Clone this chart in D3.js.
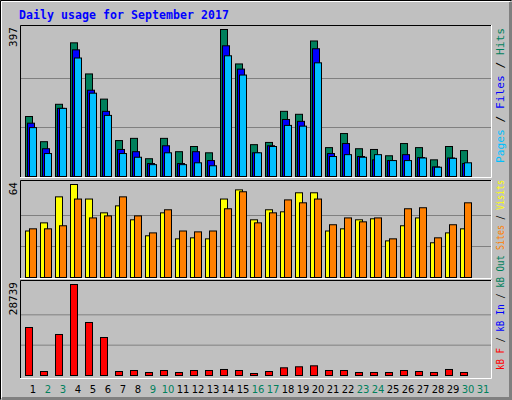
<!DOCTYPE html>
<html><head><meta charset="utf-8">
<script src="https://cdn.jsdelivr.net/npm/d3@7"></script>
<style>body{margin:0;background:#fff}svg{display:block}</style>
</head><body><svg id="c" width="512" height="400"></svg>
<script>
const days = d3.range(1,32);
const weekendDays = [2,3,9,10,16,17,23,24,30,31];
const hits  = [162,94,195,361,277,209,97,103,48,103,67,81,64,397,304,86,92,176,168,366,78,116,75,73,56,89,78,45,81,70];
const files = [144,75,184,342,233,176,73,67,35,83,35,67,43,353,290,64,83,154,149,345,62,89,54,45,43,59,51,26,50,35];
const pages = [132,62,184,320,225,165,62,52,32,64,32,37,29,326,274,64,81,138,136,307,54,59,52,59,43,43,50,25,49,37];
const visits= [32,37.6,55.5,64,54,44.5,49.3,39.7,28.7,44.5,26.6,27.3,26.6,54,60.3,39.7,46.6,45.2,58.3,58.3,32,33.5,39.7,40.4,25.2,35.6,41,23.9,30.7,33.5];
const sites = [33.5,33.5,35.6,54,41,42.4,55.5,42.4,30.7,46.6,32,31.4,32,47.3,59,37.6,44.5,53.4,51.4,54,36.3,41,38.3,41,26.6,47.3,48,27.3,36.3,51.4];
const kbF   = [15160,1263,12950,28739,16740,12000,1263,1580,950,1580,950,1580,1580,1900,1580,630,1263,2430,2750,3060,1580,1580,950,950,950,1580,1263,950,1900,950];
const maxHits=397, maxVisits=64, maxKB=28739;

const svg=d3.select("#c");
const mono="DejaVu Sans Mono, monospace";
svg.append("rect").attr("width",512).attr("height",400).attr("fill","#c0c0c0");
svg.append("path").attr("d","M0.5,399.5V0.5H511.5").attr("stroke","#000").attr("fill","none");
svg.append("path").attr("d","M1.5,398V1.5H510").attr("stroke","#fff").attr("fill","none");
svg.append("path").attr("d","M510.5,2V398.5H2").attr("stroke","#808080").attr("stroke-width",3).attr("fill","none");

svg.append("text").attr("x",19).attr("y",19).attr("font-family",mono).attr("font-weight","bold")
  .attr("font-size",11.5).attr("fill","#0000ff").attr("textLength",210).text("Daily usage for September 2017");

const x=d3.scaleBand().domain(days).range([25,490]).paddingInner(0);
const L=20,R=491;
function panel(top,bot){
  svg.append("path").attr("d",`M${L+0.5},${bot}V${top+0.5}H${R}`).attr("stroke","#000").attr("fill","none");
  svg.append("path").attr("d",`M${R+0.5},${top}V${bot+0.5}H${L}`).attr("stroke","#fff").attr("fill","none");
}
function grid(y,vals){vals.forEach(v=>svg.append("line").attr("x1",L+1).attr("x2",R).attr("y1",y(v)+0.5).attr("y2",y(v)+0.5).attr("stroke","#808080"));}
function bars(data,y,color,off,w){
  svg.append("g").selectAll("rect").data(data).join("rect")
   .attr("x",(d,i)=>x(days[i])+off+0.5).attr("y",d=>y(d)+0.5).attr("width",w)
   .attr("height",d=>y(0)-y(d)).attr("fill",color).attr("stroke","#000");
}
function vlabel(txt,xp,yp,color){
  svg.append("text").attr("transform",`translate(${xp},${yp}) rotate(-90)`).attr("text-anchor","end")
   .attr("font-family",mono).attr("font-size",11).attr("fill",color).text(txt);
}
function rlabel(parts,xp,yBottom,len,fs){
  const t=svg.append("text").attr("transform",`translate(${xp},${yBottom}) rotate(-90)`)
   .attr("font-family",mono).attr("font-size",fs).attr("textLength",len).attr("lengthAdjust","spacingAndGlyphs");
  parts.forEach(p=>t.append("tspan").attr("fill",p[1]).text(p[0]));
}
panel(25,177);
const y1=d3.scaleLinear().domain([0,maxHits]).range([176,29]);
grid(y1,[maxHits/3,maxHits*2/3]);
bars(hits,y1,"#00805c",0,7);
bars(files,y1,"#0000ff",2,7);
bars(pages,y1,"#00c0ff",4,7);
vlabel(maxHits,17,27,"#000");
rlabel([["Pages","#00c0ff"],[" / ","#000"],["Files","#0000ff"],[" / ","#000"],["Hits","#00805c"]],504,163,135,11);

panel(180,278);
const y2=d3.scaleLinear().domain([0,maxVisits]).range([277,184]);
grid(y2,[maxVisits/3,maxVisits*2/3]);
bars(visits,y2,"#ffff00",0,7);
bars(sites,y2,"#ff8000",4,7);
vlabel(maxVisits,17,182,"#000");
rlabel([["Sites","#ff8000"],[" / ","#000"],["Visits","#ffff00"]],504,250,70,10);

panel(280,378);
const y3=d3.scaleLinear().domain([0,maxKB]).range([375,284]);
grid(y3,[maxKB/3,maxKB*2/3]);
bars(kbF,y3,"#ff0000",0,7);
vlabel(maxKB,17,282,"#000");
rlabel([["kB F","#ff0000"],[" / ","#000"],["kB In","#0000ff"],[" / ","#000"],["kB Out","#00805c"]],504,370,115,10);

svg.append("g").selectAll("text").data(days).join("text")
  .attr("x",d=>x(d)+8).attr("y",393).attr("text-anchor","middle")
  .attr("font-family","DejaVu Sans, sans-serif").attr("font-size",10)
  .attr("fill",d=>weekendDays.includes(d)?"#00805c":"#000").text(d=>d);
</script></body></html>
